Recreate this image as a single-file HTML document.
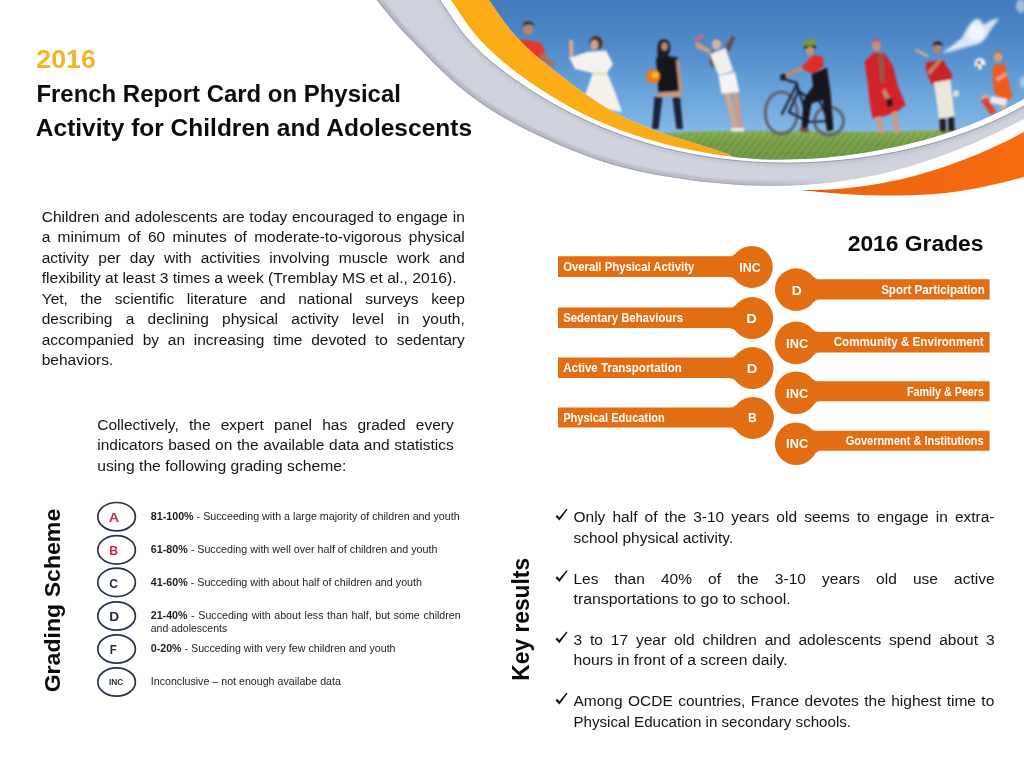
<!DOCTYPE html>
<html><head><meta charset="utf-8"><title>2016 French Report Card on Physical Activity for Children and Adolescents</title>
<style>
html,body{margin:0;padding:0;background:#fff;}
body{width:1024px;height:768px;overflow:hidden;font-family:"Liberation Sans", sans-serif;}
svg{display:block;font-family:"Liberation Sans", sans-serif;}
</style></head><body>
<svg width="1024" height="768" viewBox="0 0 1024 768">
<defs>
<linearGradient id="sky" x1="0" y1="0" x2="0" y2="1">
<stop offset="0" stop-color="#3f77b8"/><stop offset="0.25" stop-color="#4d86c5"/><stop offset="0.4" stop-color="#5893d0"/><stop offset="0.8" stop-color="#82b8e5"/><stop offset="1" stop-color="#8cc0e9"/>
</linearGradient>
<linearGradient id="grass" x1="0" y1="0" x2="0" y2="1">
<stop offset="0" stop-color="#8aad56"/><stop offset="0.3" stop-color="#6f9a40"/><stop offset="1" stop-color="#618c36"/>
</linearGradient>
<linearGradient id="greyg" x1="380" y1="0" x2="1024" y2="0" gradientUnits="userSpaceOnUse">
<stop offset="0" stop-color="#cfd2dc"/><stop offset="0.5" stop-color="#d1d4de"/><stop offset="0.8" stop-color="#ced1db"/><stop offset="1" stop-color="#cdd0da"/>
</linearGradient>
<linearGradient id="yelg" x1="450" y1="0" x2="726" y2="155" gradientUnits="userSpaceOnUse">
<stop offset="0" stop-color="#fbab16"/><stop offset="0.6" stop-color="#fbae18"/><stop offset="1" stop-color="#f6a81a"/>
</linearGradient>
<linearGradient id="orgg" x1="801" y1="0" x2="1024" y2="0" gradientUnits="userSpaceOnUse">
<stop offset="0" stop-color="#c9530c"/><stop offset="0.18" stop-color="#ee6510"/><stop offset="1" stop-color="#f76c12"/>
</linearGradient>
<linearGradient id="edgeg" x1="380" y1="0" x2="1024" y2="0" gradientUnits="userSpaceOnUse">
<stop offset="0" stop-color="#9b9eac"/><stop offset="0.6" stop-color="#a4a7b4"/><stop offset="0.72" stop-color="#b4b7c4" stop-opacity="0"/><stop offset="1" stop-color="#b4b7c4" stop-opacity="0"/>
</linearGradient>
<linearGradient id="fadeg" x1="380" y1="0" x2="1024" y2="0" gradientUnits="userSpaceOnUse">
<stop offset="0" stop-color="#fff" stop-opacity="0"/><stop offset="0.66" stop-color="#fff" stop-opacity="0"/><stop offset="0.8" stop-color="#fff" stop-opacity="0.05"/><stop offset="1" stop-color="#fff" stop-opacity="0.05"/>
</linearGradient>
<pattern id="grasspat" width="7" height="9" patternUnits="userSpaceOnUse" patternTransform="skewX(-38)">
<rect x="0.600" y="0" width="1" height="9" fill="#c9d98f" opacity="0.75"/>
<rect x="3.200" y="0" width="1.300" height="9" fill="#456f24" opacity="0.55"/>
<rect x="5.300" y="2" width="0.800" height="6" fill="#aac670" opacity="0.6"/>
</pattern>
<clipPath id="photoclip"><path d="M483.66 -7.42 C484.61 -6.09 484.83 -5.78 489.40 0.58 C493.97 6.94 503.83 22.09 511.05 30.72 C518.26 39.36 525.48 45.76 532.69 52.39 C539.91 59.02 547.12 64.71 554.34 70.51 C561.55 76.32 568.77 81.95 575.98 87.22 C583.20 92.49 590.41 97.54 597.63 102.13 C604.84 106.72 612.06 111.00 619.27 114.78 C626.49 118.57 633.70 121.84 640.92 124.86 C648.13 127.88 655.35 130.41 662.56 132.90 C669.78 135.39 676.99 137.54 684.21 139.80 C691.42 142.05 698.64 144.12 705.85 146.44 C713.07 148.75 722.64 151.93 727.50 153.70 C732.36 155.47 730.04 156.19 735.00 157.07 C739.96 157.95 749.82 158.57 757.23 158.97 C764.64 159.38 772.05 159.49 779.46 159.50 C786.87 159.51 794.28 159.36 801.69 159.05 C809.10 158.74 816.51 158.27 823.92 157.65 C831.33 157.02 838.74 156.24 846.15 155.30 C853.56 154.37 860.97 153.27 868.38 152.04 C875.79 150.80 883.21 149.41 890.62 147.87 C898.03 146.33 905.44 144.66 912.85 142.81 C920.26 140.95 927.67 138.96 935.08 136.74 C942.49 134.53 949.90 132.14 957.31 129.51 C964.72 126.87 972.13 124.04 979.54 120.93 C986.95 117.81 994.36 114.48 1001.77 110.84 C1009.18 107.20 1018.96 101.74 1024.00 99.07 C1029.04 96.40 1030.67 95.54 1032.00 94.84 L1032.00 -8.00 Z"/></clipPath>
<clipPath id="greyclip"><path d="M370.29 -7.65 C371.39 -6.32 372.08 -5.48 376.90 0.35 C381.72 6.18 391.78 18.99 399.21 27.35 C406.65 35.70 414.09 42.92 421.53 50.49 C428.97 58.07 436.40 65.82 443.84 72.79 C451.28 79.76 458.72 86.38 466.16 92.29 C473.59 98.20 481.03 103.37 488.47 108.23 C495.91 113.09 503.34 117.35 510.78 121.46 C518.22 125.57 525.66 129.25 533.10 132.88 C540.53 136.51 547.97 139.97 555.41 143.26 C562.85 146.54 570.29 149.70 577.72 152.60 C585.16 155.50 592.60 158.22 600.04 160.66 C607.48 163.10 614.91 165.26 622.35 167.23 C629.79 169.19 637.23 170.86 644.67 172.42 C652.10 173.97 659.54 175.31 666.98 176.56 C674.42 177.81 681.86 178.93 689.29 179.93 C696.73 180.94 704.17 181.84 711.61 182.61 C719.04 183.37 726.48 184.02 733.92 184.52 C741.36 185.02 748.80 185.40 756.23 185.62 C763.67 185.83 771.11 185.91 778.55 185.83 C785.99 185.74 793.42 185.51 800.86 185.10 C808.30 184.69 815.74 184.12 823.18 183.37 C830.61 182.62 838.05 181.70 845.49 180.58 C852.93 179.47 860.37 178.17 867.80 176.68 C875.24 175.18 882.68 173.50 890.12 171.64 C897.56 169.77 904.99 167.72 912.43 165.49 C919.87 163.27 927.31 160.85 934.74 158.27 C942.18 155.68 949.62 152.92 957.06 149.98 C964.50 147.05 971.93 143.94 979.37 140.67 C986.81 137.40 994.25 133.95 1001.69 130.35 C1009.12 126.74 1018.95 121.60 1024.00 119.05 C1029.05 116.49 1030.67 115.67 1032.00 114.99 L1032.00 -8.00 Z"/></clipPath>
<filter id="b1" x="-20%" y="-20%" width="140%" height="140%"><feGaussianBlur stdDeviation="0.85"/></filter>
<filter id="b2" x="-20%" y="-20%" width="140%" height="140%"><feGaussianBlur stdDeviation="1.6"/></filter>
<filter id="b3" x="-30%" y="-30%" width="160%" height="160%"><feGaussianBlur stdDeviation="3"/></filter>
</defs>
<g id="banner">
<path d="M370.29 -7.65 C371.39 -6.32 372.08 -5.48 376.90 0.35 C381.72 6.18 391.78 18.99 399.21 27.35 C406.65 35.70 414.09 42.92 421.53 50.49 C428.97 58.07 436.40 65.82 443.84 72.79 C451.28 79.76 458.72 86.38 466.16 92.29 C473.59 98.20 481.03 103.37 488.47 108.23 C495.91 113.09 503.34 117.35 510.78 121.46 C518.22 125.57 525.66 129.25 533.10 132.88 C540.53 136.51 547.97 139.97 555.41 143.26 C562.85 146.54 570.29 149.70 577.72 152.60 C585.16 155.50 592.60 158.22 600.04 160.66 C607.48 163.10 614.91 165.26 622.35 167.23 C629.79 169.19 637.23 170.86 644.67 172.42 C652.10 173.97 659.54 175.31 666.98 176.56 C674.42 177.81 681.86 178.93 689.29 179.93 C696.73 180.94 704.17 181.84 711.61 182.61 C719.04 183.37 726.48 184.02 733.92 184.52 C741.36 185.02 748.80 185.40 756.23 185.62 C763.67 185.83 771.11 185.91 778.55 185.83 C785.99 185.74 793.42 185.51 800.86 185.10 C808.30 184.69 815.74 184.12 823.18 183.37 C830.61 182.62 838.05 181.70 845.49 180.58 C852.93 179.47 860.37 178.17 867.80 176.68 C875.24 175.18 882.68 173.50 890.12 171.64 C897.56 169.77 904.99 167.72 912.43 165.49 C919.87 163.27 927.31 160.85 934.74 158.27 C942.18 155.68 949.62 152.92 957.06 149.98 C964.50 147.05 971.93 143.94 979.37 140.67 C986.81 137.40 994.25 133.95 1001.69 130.35 C1009.12 126.74 1018.95 121.60 1024.00 119.05 C1029.05 116.49 1030.67 115.67 1032.00 114.99 L1032.00 -8.00 Z" fill="url(#greyg)"/>
<g clip-path="url(#greyclip)">
<path d="M434.52 -7.92 C435.44 -6.59 435.48 -6.52 440.00 0.08 C444.52 6.68 454.42 22.56 461.63 31.68 C468.84 40.80 476.05 47.98 483.26 54.78 C490.47 61.58 497.68 67.02 504.89 72.49 C512.10 77.97 519.31 82.86 526.52 87.60 C533.73 92.35 540.94 96.77 548.15 100.95 C555.36 105.13 562.57 109.02 569.78 112.69 C576.99 116.36 584.20 119.77 591.41 122.97 C598.62 126.17 605.83 129.13 613.04 131.88 C620.25 134.64 627.46 137.18 634.67 139.52 C641.88 141.86 649.09 144.00 656.30 145.95 C663.51 147.91 670.72 149.67 677.93 151.26 C685.14 152.86 692.35 154.27 699.56 155.53 C706.77 156.79 713.98 157.88 721.19 158.82 C728.40 159.75 735.60 160.53 742.81 161.15 C750.02 161.77 757.23 162.24 764.44 162.55 C771.65 162.87 778.86 163.02 786.07 163.04 C793.28 163.05 800.49 162.91 807.70 162.62 C814.91 162.34 822.12 161.90 829.33 161.33 C836.54 160.75 843.75 160.03 850.96 159.17 C858.17 158.32 865.38 157.31 872.59 156.18 C879.80 155.04 887.01 153.77 894.22 152.35 C901.43 150.92 908.64 149.36 915.85 147.62 C923.06 145.87 930.27 143.97 937.48 141.86 C944.69 139.75 951.90 137.46 959.11 134.95 C966.32 132.43 973.53 129.72 980.74 126.76 C987.95 123.80 995.16 120.62 1002.37 117.17 C1009.58 113.72 1019.06 108.59 1024.00 106.05 C1028.94 103.51 1030.67 102.62 1032.00 101.94" fill="none" stroke="#a4a8b8" stroke-width="7" opacity="0.3" filter="url(#b2)"/>
<path d="M370.29 -7.65 C371.39 -6.32 372.08 -5.48 376.90 0.35 C381.72 6.18 391.78 18.99 399.21 27.35 C406.65 35.70 414.09 42.92 421.53 50.49 C428.97 58.07 436.40 65.82 443.84 72.79 C451.28 79.76 458.72 86.38 466.16 92.29 C473.59 98.20 481.03 103.37 488.47 108.23 C495.91 113.09 503.34 117.35 510.78 121.46 C518.22 125.57 525.66 129.25 533.10 132.88 C540.53 136.51 547.97 139.97 555.41 143.26 C562.85 146.54 570.29 149.70 577.72 152.60 C585.16 155.50 592.60 158.22 600.04 160.66 C607.48 163.10 614.91 165.26 622.35 167.23 C629.79 169.19 637.23 170.86 644.67 172.42 C652.10 173.97 659.54 175.31 666.98 176.56 C674.42 177.81 681.86 178.93 689.29 179.93 C696.73 180.94 704.17 181.84 711.61 182.61 C719.04 183.37 726.48 184.02 733.92 184.52 C741.36 185.02 748.80 185.40 756.23 185.62 C763.67 185.83 771.11 185.91 778.55 185.83 C785.99 185.74 793.42 185.51 800.86 185.10 C808.30 184.69 815.74 184.12 823.18 183.37 C830.61 182.62 838.05 181.70 845.49 180.58 C852.93 179.47 860.37 178.17 867.80 176.68 C875.24 175.18 882.68 173.50 890.12 171.64 C897.56 169.77 904.99 167.72 912.43 165.49 C919.87 163.27 927.31 160.85 934.74 158.27 C942.18 155.68 949.62 152.92 957.06 149.98 C964.50 147.05 971.93 143.94 979.37 140.67 C986.81 137.40 994.25 133.95 1001.69 130.35 C1009.12 126.74 1018.95 121.60 1024.00 119.05 C1029.05 116.49 1030.67 115.67 1032.00 114.99" fill="none" stroke="url(#edgeg)" stroke-width="9" opacity="0.5" filter="url(#b1)"/>
<path d="M370.29 -7.65 C371.39 -6.32 372.08 -5.48 376.90 0.35 C381.72 6.18 391.78 18.99 399.21 27.35 C406.65 35.70 414.09 42.92 421.53 50.49 C428.97 58.07 436.40 65.82 443.84 72.79 C451.28 79.76 458.72 86.38 466.16 92.29 C473.59 98.20 481.03 103.37 488.47 108.23 C495.91 113.09 503.34 117.35 510.78 121.46 C518.22 125.57 525.66 129.25 533.10 132.88 C540.53 136.51 547.97 139.97 555.41 143.26 C562.85 146.54 570.29 149.70 577.72 152.60 C585.16 155.50 592.60 158.22 600.04 160.66 C607.48 163.10 614.91 165.26 622.35 167.23 C629.79 169.19 637.23 170.86 644.67 172.42 C652.10 173.97 659.54 175.31 666.98 176.56 C674.42 177.81 681.86 178.93 689.29 179.93 C696.73 180.94 704.17 181.84 711.61 182.61 C719.04 183.37 726.48 184.02 733.92 184.52 C741.36 185.02 748.80 185.40 756.23 185.62 C763.67 185.83 771.11 185.91 778.55 185.83 C785.99 185.74 793.42 185.51 800.86 185.10 C808.30 184.69 815.74 184.12 823.18 183.37 C830.61 182.62 838.05 181.70 845.49 180.58 C852.93 179.47 860.37 178.17 867.80 176.68 C875.24 175.18 882.68 173.50 890.12 171.64 C897.56 169.77 904.99 167.72 912.43 165.49 C919.87 163.27 927.31 160.85 934.74 158.27 C942.18 155.68 949.62 152.92 957.06 149.98 C964.50 147.05 971.93 143.94 979.37 140.67 C986.81 137.40 994.25 133.95 1001.69 130.35 C1009.12 126.74 1018.95 121.60 1024.00 119.05 C1029.05 116.49 1030.67 115.67 1032.00 114.99" fill="none" stroke="url(#edgeg)" stroke-width="2.4" opacity="0.8"/>
<path d="M370.29 -7.65 C371.39 -6.32 372.08 -5.48 376.90 0.35 C381.72 6.18 391.78 18.99 399.21 27.35 C406.65 35.70 414.09 42.92 421.53 50.49 C428.97 58.07 436.40 65.82 443.84 72.79 C451.28 79.76 458.72 86.38 466.16 92.29 C473.59 98.20 481.03 103.37 488.47 108.23 C495.91 113.09 503.34 117.35 510.78 121.46 C518.22 125.57 525.66 129.25 533.10 132.88 C540.53 136.51 547.97 139.97 555.41 143.26 C562.85 146.54 570.29 149.70 577.72 152.60 C585.16 155.50 592.60 158.22 600.04 160.66 C607.48 163.10 614.91 165.26 622.35 167.23 C629.79 169.19 637.23 170.86 644.67 172.42 C652.10 173.97 659.54 175.31 666.98 176.56 C674.42 177.81 681.86 178.93 689.29 179.93 C696.73 180.94 704.17 181.84 711.61 182.61 C719.04 183.37 726.48 184.02 733.92 184.52 C741.36 185.02 748.80 185.40 756.23 185.62 C763.67 185.83 771.11 185.91 778.55 185.83 C785.99 185.74 793.42 185.51 800.86 185.10 C808.30 184.69 815.74 184.12 823.18 183.37 C830.61 182.62 838.05 181.70 845.49 180.58 C852.93 179.47 860.37 178.17 867.80 176.68 C875.24 175.18 882.68 173.50 890.12 171.64 C897.56 169.77 904.99 167.72 912.43 165.49 C919.87 163.27 927.31 160.85 934.74 158.27 C942.18 155.68 949.62 152.92 957.06 149.98 C964.50 147.05 971.93 143.94 979.37 140.67 C986.81 137.40 994.25 133.95 1001.69 130.35 C1009.12 126.74 1018.95 121.60 1024.00 119.05 C1029.05 116.49 1030.67 115.67 1032.00 114.99" fill="none" stroke="url(#fadeg)" stroke-width="18" filter="url(#b2)"/>
</g>
<path d="M434.52 -7.92 C435.44 -6.59 435.48 -6.52 440.00 0.08 C444.52 6.68 454.42 22.56 461.63 31.68 C468.84 40.80 476.05 47.98 483.26 54.78 C490.47 61.58 497.68 67.02 504.89 72.49 C512.10 77.97 519.31 82.86 526.52 87.60 C533.73 92.35 540.94 96.77 548.15 100.95 C555.36 105.13 562.57 109.02 569.78 112.69 C576.99 116.36 584.20 119.77 591.41 122.97 C598.62 126.17 605.83 129.13 613.04 131.88 C620.25 134.64 627.46 137.18 634.67 139.52 C641.88 141.86 649.09 144.00 656.30 145.95 C663.51 147.91 670.72 149.67 677.93 151.26 C685.14 152.86 692.35 154.27 699.56 155.53 C706.77 156.79 713.98 157.88 721.19 158.82 C728.40 159.75 735.60 160.53 742.81 161.15 C750.02 161.77 757.23 162.24 764.44 162.55 C771.65 162.87 778.86 163.02 786.07 163.04 C793.28 163.05 800.49 162.91 807.70 162.62 C814.91 162.34 822.12 161.90 829.33 161.33 C836.54 160.75 843.75 160.03 850.96 159.17 C858.17 158.32 865.38 157.31 872.59 156.18 C879.80 155.04 887.01 153.77 894.22 152.35 C901.43 150.92 908.64 149.36 915.85 147.62 C923.06 145.87 930.27 143.97 937.48 141.86 C944.69 139.75 951.90 137.46 959.11 134.95 C966.32 132.43 973.53 129.72 980.74 126.76 C987.95 123.80 995.16 120.62 1002.37 117.17 C1009.58 113.72 1019.06 108.59 1024.00 106.05 C1028.94 103.51 1030.67 102.62 1032.00 101.94 L1032.00 -8.00 Z" fill="#fff"/>
<path d="M434.52 -7.92 C435.44 -6.59 435.48 -6.52 440.00 0.08 C444.52 6.68 454.42 22.56 461.63 31.68 C468.84 40.80 476.05 47.98 483.26 54.78 C490.47 61.58 497.68 67.02 504.89 72.49 C512.10 77.97 519.31 82.86 526.52 87.60 C533.73 92.35 540.94 96.77 548.15 100.95 C555.36 105.13 562.57 109.02 569.78 112.69 C576.99 116.36 584.20 119.77 591.41 122.97 C598.62 126.17 605.83 129.13 613.04 131.88 C620.25 134.64 627.46 137.18 634.67 139.52 C641.88 141.86 649.09 144.00 656.30 145.95 C663.51 147.91 670.72 149.67 677.93 151.26 C685.14 152.86 692.35 154.27 699.56 155.53 C706.77 156.79 713.98 157.88 721.19 158.82 C728.40 159.75 735.60 160.53 742.81 161.15 C750.02 161.77 757.23 162.24 764.44 162.55 C771.65 162.87 778.86 163.02 786.07 163.04 C793.28 163.05 800.49 162.91 807.70 162.62 C814.91 162.34 822.12 161.90 829.33 161.33 C836.54 160.75 843.75 160.03 850.96 159.17 C858.17 158.32 865.38 157.31 872.59 156.18 C879.80 155.04 887.01 153.77 894.22 152.35 C901.43 150.92 908.64 149.36 915.85 147.62 C923.06 145.87 930.27 143.97 937.48 141.86 C944.69 139.75 951.90 137.46 959.11 134.95 C966.32 132.43 973.53 129.72 980.74 126.76 C987.95 123.80 995.16 120.62 1002.37 117.17 C1009.58 113.72 1019.06 108.59 1024.00 106.05 C1028.94 103.51 1030.67 102.62 1032.00 101.94" fill="none" stroke="#6d6f7c" stroke-width="0.9" opacity="0.7"/>
<path d="M445.65 -7.53 C446.58 -6.19 446.68 -6.06 451.25 0.47 C455.82 7.00 465.80 22.65 473.08 31.66 C480.35 40.68 487.63 47.76 494.90 54.56 C502.18 61.35 509.46 66.88 516.73 72.44 C524.01 78.00 531.28 83.09 538.56 87.94 C545.83 92.79 553.11 97.31 560.38 101.56 C567.66 105.80 574.94 109.73 582.21 113.39 C589.49 117.05 596.76 120.41 604.04 123.53 C611.31 126.65 618.59 129.48 625.87 132.11 C633.14 134.73 640.42 137.09 647.69 139.28 C654.97 141.46 662.24 143.41 669.52 145.20 C676.79 146.99 684.07 148.58 691.35 150.03 C698.62 151.49 705.90 152.77 713.17 153.94 C720.45 155.11 731.36 156.55 735.00 157.07 L735.00 157.07 L727.50 153.70 C723.89 152.49 713.07 148.75 705.85 146.44 C698.64 144.12 691.42 142.05 684.21 139.80 C676.99 137.54 669.78 135.39 662.56 132.90 C655.35 130.41 648.13 127.88 640.92 124.86 C633.70 121.84 626.49 118.57 619.27 114.78 C612.06 111.00 604.84 106.72 597.63 102.13 C590.41 97.54 583.20 92.49 575.98 87.22 C568.77 81.95 561.55 76.32 554.34 70.51 C547.12 64.71 539.91 59.02 532.69 52.39 C525.48 45.76 518.26 39.36 511.05 30.72 C503.83 22.09 493.97 6.94 489.40 0.58 C484.83 -5.78 484.61 -6.09 483.66 -7.42 Z" fill="url(#yelg)"/>
<g clip-path="url(#photoclip)">
<rect x="470" y="-8" width="560" height="173" fill="url(#sky)"/>
<g id="cloud" filter="url(#b2)" fill="#fff">
<path d="M942 53 C950 47 956 43 962 38 C966 30 970 22 976 19 C980 18 982 22 984 25 C990 20 996 18 999 19 C994 25 990 30 987 36 C984 42 978 45 970 46 C962 48 952 52 942 53Z" opacity="0.8"/>
<ellipse cx="976" cy="32" rx="8" ry="9" opacity="0.6"/>
<ellipse cx="1021" cy="6" rx="5" ry="7" opacity="0.5"/>
<ellipse cx="1023" cy="82" rx="3" ry="6" opacity="0.45"/>
</g>
<g id="grass">
<path d="M655 134 C700 130.5 760 130.8 820 131.5 C870 132 920 131.5 960 129 L960 170 L655 170Z" fill="url(#grass)" filter="url(#b1)"/>
<path d="M655 135.500 C700 132 760 132.300 820 133 C870 133.500 920 133 960 130.500 L960 170 L655 170Z" fill="url(#grasspat)" opacity="0.75" filter="url(#b1)"/>
</g>
<g id="people" filter="url(#b1)">
<!-- 1 boy red shirt -->
<ellipse cx="528" cy="29" rx="5" ry="6" fill="#b8846c"/>
<path d="M522.5 27 C522 20 534 19.500 534.500 26 C531 23.500 526 24 522.500 27Z" fill="#2c2a3a"/>
<path d="M520 39.500 L528 40.500 L541 42.500 L545 52 L542 62 L520 46Z" fill="#e8342a"/>
<path d="M541.5 52 L555 64 L552 67 L539 57Z" fill="#b86a50"/>
<!-- 2 girl white dress -->
<ellipse cx="596" cy="43" rx="6.5" ry="7" fill="#4a3228"/>
<ellipse cx="594.5" cy="45" rx="4" ry="5" fill="#d2a48c"/>
<path d="M569 40 L573 40 L573.500 58 L569.500 59Z" fill="#d8a890"/>
<path d="M569.500 58 L587 52 L606 50.500 L613 64 L607 73 L592.500 73 L575 69Z" fill="#f4f2ee"/>
<path d="M592.5 72.500 L607.500 72.500 L608 76 L592 76Z" fill="#ece2a4"/>
<path d="M592 75 L608 75 L615 92 L622 112 L604 109 L585 95Z" fill="#f3f1ea"/>
<!-- 3 girl black with ball -->
<path d="M658 44 C659 38 669 38 670 45 C671 52 668 58 664 60 L657 60 C658 55 657 49 658 44Z" fill="#1e1c24"/>
<ellipse cx="664.500" cy="46.500" rx="3.200" ry="4" fill="#b98a74"/>
<path d="M656 58.5 L668 56 L677.500 57.500 L680.500 91.500 L658.500 93.500Z" fill="#17171d"/>
<path d="M676 60 L679.500 61 L682.500 90 L679 92Z" fill="#c09078"/>
<path d="M658.500 92.500 L681 91 L681.500 97 L657.500 97Z" fill="#c49a80"/>
<path d="M654.500 97 L662.500 97 L658.500 129 L652 129Z" fill="#1f2238"/>
<path d="M672.500 97 L680 97 L683 129 L676.500 129Z" fill="#1f2238"/>
<circle cx="653" cy="76.500" r="7" fill="#ee7a1e"/>
<ellipse cx="655" cy="75" rx="3.500" ry="3" fill="#f8c028"/>
<!-- 4 girl white arms raised -->
<path d="M711 50 C709 56 709 62 712 68 L716 66 L716 52Z" fill="#6a5448"/>
<ellipse cx="716.500" cy="44.500" rx="4.500" ry="5" fill="#d9b49e"/>
<path d="M710 54 L696 48 L695 43 L698 42 L711 50Z" fill="#c99c86"/>
<path d="M724 49 L732 36 L735.500 37 L729 52Z" fill="#6c4a3c"/>
<path d="M694 38 L702 34 L704 37 L697 42Z" fill="#c86a8c"/>
<path d="M710 54 L725.500 48 L733.500 71 L718.500 75.500Z" fill="#f1efec"/>
<path d="M718.500 76 L735 72 L739.500 92 L721.500 94Z" fill="#f6f4f2"/>
<path d="M724 93 L730 93 L738 129 L733 129Z" fill="#d2a890"/>
<path d="M732 93 L738.500 92.500 L743 129 L738.500 129Z" fill="#c99c86"/>
<path d="M731 128 L744 128 L744 131.500 L731 131.500Z" fill="#eeeae6"/>
<!-- 5 biker -->
<g fill="none" stroke="#5e6474" stroke-width="3">
<ellipse cx="781.3" cy="113" rx="16" ry="21"/>
<ellipse cx="829" cy="121" rx="14.500" ry="14"/>
</g>
<g fill="none" stroke="#1a2236" stroke-width="2.200" stroke-linecap="round">
<path d="M781.500 78.500 L796.500 83 L808.500 122 M796.500 85 L782 114 M797 90 L806 96 M798 92 L789 112 L808.500 122 L829 121 L818 98"/>
</g>
<path d="M803.500 44 C804 38 816 37.500 816.500 44 L815 46.500 L805 47Z" fill="#7a9a2c"/>
<path d="M804 46 L816 45.500 L816 48.500 L804 49Z" fill="#1e2420"/>
<ellipse cx="810" cy="51" rx="4.200" ry="4.500" fill="#c49278"/>
<path d="M800.500 68 L813 55 L822.500 56.500 L824 66 L813 74Z" fill="#de2e2c"/>
<path d="M801 66.500 L803 70.500 L783 79 L781.500 75.500Z" fill="#c08a74"/>
<path d="M780 75 L785.500 73.500 L786.500 79 L781 80.500Z" fill="#1c1c22"/>
<path d="M811.500 74 L827 67.500 L830.500 92.500 L833.500 130 L827 131.500 L822.500 100 L811.500 103.500 L807 130 L801.500 127.500 L803.500 100 L813 86Z" fill="#15151b"/>
<path d="M801 127 L809 129 L808 133 L799 131Z" fill="#7c4a3c"/>
<!-- 6 red robe -->
<ellipse cx="876.500" cy="46" rx="4.300" ry="5.200" fill="#c8907c"/>
<path d="M872 43 C872.500 37 881 37 881 43 C878 41.500 875 41.500 872 43Z" fill="#d6507e"/>
<path d="M864.500 61.500 L874 52.500 L885 53.500 L893 66 L897.500 84.500 L905.500 105 L897.500 111.500 L885 116 L872.500 118.500 L869.500 100 L867.500 81.500Z" fill="#d4222a"/>
<path d="M878.500 55 L883.500 55 L884.500 82 L880.500 84Z" fill="#8a5a44"/>
<path d="M885 88 L891 100 L888 104 L882 92Z" fill="#c08a72"/>
<path d="M886 99 L892 98 L893 106 L887 107Z" fill="#3a1418"/>
<path d="M875.500 117 L881 116.500 L884 133 L879 133Z" fill="#c99a82"/>
<path d="M892 112.500 L897.500 111 L899.500 133 L894.500 133Z" fill="#c99a82"/>
<!-- 7 baseball -->
<path d="M914.500 50.500 L916 48.500 L929 55.500 L927.500 57.500Z" fill="#c8b48c"/>
<ellipse cx="937.500" cy="49" rx="4" ry="4.800" fill="#b8846c"/>
<path d="M932.500 46 C933 40 942.500 40 942.500 46 C939.500 44.500 936 44.500 932.500 46Z" fill="#2a1c22"/>
<path d="M926 62 L943 60 L952.500 75 L950.500 80.500 L931.500 84.500 L926 71.500Z" fill="#c8242c"/>
<path d="M927 72 L940 58 L942.500 60 L930 75Z" fill="#b88068"/>
<path d="M934 82.500 L950.500 79.500 L954.500 116 L939 119Z" fill="#ece6da"/>
<path d="M954 90 L959 91 L958 97 L953 96Z" fill="#e8e4e0"/>
<path d="M939.500 118.500 L945.500 118 L946 131.500 L940 131.500Z" fill="#2a1c24"/>
<path d="M948 117.500 L954 116.500 L954.500 131 L948.500 131Z" fill="#2a1c24"/>
<!-- 8 soccer kid -->
<ellipse cx="998" cy="57" rx="4.300" ry="5" fill="#d0a080"/>
<path d="M993.500 55 C994 49 1003 49 1003 55 C1000 52.500 996.500 52.500 993.500 55Z" fill="#a87c50"/>
<path d="M993.500 65.500 L1004.500 63.500 L1012.500 97.500 L1006.500 102 L994.500 93.500 L992.500 75Z" fill="#f25a1a"/>
<path d="M996 78 L1006 72 L1007.500 75 L997 82Z" fill="#d8a488"/>
<path d="M991 96 L1007 99 L1006 106 L990 103Z" fill="#eeeae8"/>
<circle cx="985.500" cy="98" r="3.800" fill="#d8a890"/>
<path d="M981 100 L987 97 L996.500 112 L990.500 115Z" fill="#e2402e"/>
<path d="M1000 105 L1005 105 L1006 113 L1001.500 113Z" fill="#d8a890"/>
<circle cx="980" cy="63.700" r="5.600" fill="#f2f2f2"/>
<circle cx="979" cy="62.500" r="1.800" fill="#222"/><circle cx="983" cy="66.500" r="1.400" fill="#222"/><circle cx="977" cy="67" r="1.200" fill="#222"/>
</g>

</g>
<path d="M800.60 190.09 C804.32 190.04 815.49 190.12 822.94 189.83 C830.39 189.54 837.83 189.04 845.28 188.33 C852.73 187.62 860.17 186.70 867.62 185.58 C875.07 184.46 882.51 183.13 889.96 181.60 C897.41 180.07 904.85 178.33 912.30 176.39 C919.75 174.45 927.19 172.30 934.64 169.96 C942.09 167.61 949.53 165.05 956.98 162.30 C964.43 159.54 971.87 156.59 979.32 153.43 C986.77 150.27 994.21 146.91 1001.66 143.35 C1009.11 139.79 1018.94 134.62 1024.00 132.06 C1029.06 129.51 1030.67 128.69 1032.00 128.02 L1032.00 174.96 C1030.67 175.30 1029.06 175.72 1024.00 177.03 C1018.94 178.34 1009.11 181.03 1001.66 182.81 C994.21 184.60 986.77 186.28 979.32 187.73 C971.87 189.17 964.43 190.45 956.98 191.48 C949.53 192.52 942.09 193.30 934.64 193.92 C927.19 194.55 919.75 194.94 912.30 195.21 C904.85 195.49 897.41 195.58 889.96 195.57 C882.51 195.56 875.07 195.39 867.62 195.13 C860.17 194.87 852.73 194.48 845.28 194.00 C837.83 193.53 830.39 192.94 822.94 192.29 C815.49 191.64 804.32 190.47 800.60 190.10 Z" fill="url(#orgg)"/>
</g>
<g id="chart" fill="#e36d12">
<rect x="558" y="256.25" width="193.75" height="20.75"/>
<circle cx="751.75" cy="266.90" r="21"/>
<rect x="558" y="307.50" width="194.20" height="20.50"/>
<circle cx="752.20" cy="318.10" r="21"/>
<rect x="558" y="357.50" width="194.50" height="20.50"/>
<circle cx="752.50" cy="368.10" r="21"/>
<rect x="558" y="407.50" width="194.90" height="20.00"/>
<circle cx="752.90" cy="417.90" r="21"/>
<rect x="796" y="279.25" width="193.60" height="20.25"/>
<circle cx="796.2" cy="289.60" r="21.3"/>
<rect x="796" y="332.00" width="193.60" height="20.50"/>
<circle cx="796.2" cy="342.90" r="21.3"/>
<rect x="796" y="381.25" width="193.60" height="20.00"/>
<circle cx="796.2" cy="392.70" r="21.3"/>
<rect x="796" y="430.75" width="193.60" height="20.00"/>
<circle cx="796.2" cy="443.75" r="21.3"/>
<path d="M728.65 256.25 Q732.85 256.25 735.25 253.91 L735.25 256.25 Z"/>
<path d="M728.34 277.00 Q732.54 277.00 734.94 279.48 L734.94 277.00 Z"/>
<path d="M729.07 307.50 Q733.27 307.50 735.67 305.15 L735.67 307.50 Z"/>
<path d="M728.68 328.00 Q732.88 328.00 735.28 330.54 L735.28 328.00 Z"/>
<path d="M729.37 357.50 Q733.57 357.50 735.97 355.15 L735.97 357.50 Z"/>
<path d="M728.98 378.00 Q733.18 378.00 735.58 380.54 L735.58 378.00 Z"/>
<path d="M729.66 407.50 Q733.86 407.50 736.26 405.09 L736.26 407.50 Z"/>
<path d="M729.22 427.50 Q733.42 427.50 735.82 430.12 L735.82 427.50 Z"/>
<path d="M819.82 279.25 Q815.62 279.25 813.22 276.79 L813.22 279.25 Z"/>
<path d="M820.06 299.50 Q815.86 299.50 813.46 302.08 L813.46 299.50 Z"/>
<path d="M819.50 332.00 Q815.30 332.00 812.90 329.68 L812.90 332.00 Z"/>
<path d="M820.21 352.50 Q816.01 352.50 813.61 355.17 L813.61 352.50 Z"/>
<path d="M819.16 381.25 Q814.96 381.25 812.56 379.06 L812.56 381.25 Z"/>
<path d="M820.71 401.25 Q816.51 401.25 814.11 404.23 L814.11 401.25 Z"/>
<path d="M818.07 430.75 Q813.87 430.75 811.47 428.90 L811.47 430.75 Z"/>
<path d="M821.32 450.75 Q817.12 450.75 814.72 454.28 L814.72 450.75 Z"/>
</g>
<g id="scheme" fill="none" stroke="#27324f" stroke-width="1.7">
<ellipse cx="116.6" cy="516.7" rx="18.8" ry="14.2"/>
<ellipse cx="116.6" cy="549.9" rx="18.8" ry="14.2"/>
<ellipse cx="116.6" cy="582.4" rx="18.8" ry="14.2"/>
<ellipse cx="116.6" cy="616.0" rx="18.8" ry="14.2"/>
<ellipse cx="116.6" cy="649.0" rx="18.8" ry="14.2"/>
<ellipse cx="116.6" cy="682.0" rx="18.8" ry="14.2"/>
</g>
<g id="checks" fill="#111">
<path d="M555.5 516.60 L557.2 514.90 L559.3 517.40 L566.5 508.80 L567.6 509.60 L559.4 520.60 Z"/>
<path d="M555.5 578.05 L557.2 576.35 L559.3 578.85 L566.5 570.25 L567.6 571.05 L559.4 582.05 Z"/>
<path d="M555.5 639.30 L557.2 637.60 L559.3 640.10 L566.5 631.50 L567.6 632.30 L559.4 643.30 Z"/>
<path d="M555.5 700.55 L557.2 698.85 L559.3 701.35 L566.5 692.75 L567.6 693.55 L559.4 704.55 Z"/>
</g>
<g id="texts" opacity="0.999">
<text transform="translate(36.35 68.00) scale(1.0679 1)" font-size="25" font-weight="700" fill="#efb62c" xml:space="preserve">2016</text>
<text transform="translate(36.40 101.60) scale(0.9975 1)" font-size="24" font-weight="700" fill="#0c0c0c" xml:space="preserve">French Report Card on Physical</text>
<text transform="translate(35.80 136.20) scale(1.0216 1)" font-size="24" font-weight="700" fill="#0c0c0c" xml:space="preserve">Activity for Children and Adolescents</text>
<text transform="translate(41.73 222.00) scale(1.0000 1)" font-size="15.5" font-weight="400" fill="#141414" style="word-spacing:0.422px" xml:space="preserve">Children and adolescents are today encouraged to engage in</text>
<text transform="translate(41.73 242.40) scale(1.0000 1)" font-size="15.5" font-weight="400" fill="#141414" style="word-spacing:2.962px" xml:space="preserve">a minimum of 60 minutes of moderate-to-vigorous physical</text>
<text transform="translate(41.73 262.90) scale(1.0000 1)" font-size="15.5" font-weight="400" fill="#141414" style="word-spacing:4.854px" xml:space="preserve">activity per day with activities involving muscle work and</text>
<text transform="translate(41.73 283.30) scale(1.0073 1)" font-size="15.5" font-weight="400" fill="#141414" xml:space="preserve">flexibility at least 3 times a week (Tremblay MS et al., 2016).</text>
<text transform="translate(41.73 303.70) scale(1.0000 1)" font-size="15.5" font-weight="400" fill="#141414" style="word-spacing:8.329px" xml:space="preserve">Yet, the scientific literature and national surveys keep</text>
<text transform="translate(41.73 324.10) scale(1.0000 1)" font-size="15.5" font-weight="400" fill="#141414" style="word-spacing:8.987px" xml:space="preserve">describing a declining physical activity level in youth,</text>
<text transform="translate(41.73 344.60) scale(1.0000 1)" font-size="15.5" font-weight="400" fill="#141414" style="word-spacing:4.429px" xml:space="preserve">accompanied by an increasing time devoted to sedentary</text>
<text transform="translate(41.73 365.00) scale(1.0005 1)" font-size="15.5" font-weight="400" fill="#141414" xml:space="preserve">behaviors.</text>
<text transform="translate(97.22 430.00) scale(1.0000 1)" font-size="15.5" font-weight="400" fill="#141414" style="word-spacing:5.909px" xml:space="preserve">Collectively, the expert panel has graded every</text>
<text transform="translate(97.22 450.00) scale(1.0000 1)" font-size="15.5" font-weight="400" fill="#141414" style="word-spacing:0.344px" xml:space="preserve">indicators based on the available data and statistics</text>
<text transform="translate(97.22 470.50) scale(1.0116 1)" font-size="15.5" font-weight="400" fill="#141414" xml:space="preserve">using the following grading scheme:</text>
<text transform="translate(573.48 522.30) scale(1.0000 1)" font-size="15.5" font-weight="400" fill="#141414" style="word-spacing:2.794px" xml:space="preserve">Only half of the 3-10 years old seems to engage in extra-</text>
<text transform="translate(573.48 542.50) scale(0.9990 1)" font-size="15.5" font-weight="400" fill="#141414" xml:space="preserve">school physical activity.</text>
<text transform="translate(573.48 583.75) scale(1.0000 1)" font-size="15.5" font-weight="400" fill="#141414" style="word-spacing:11.837px" xml:space="preserve">Les than 40% of the 3-10 years old use active</text>
<text transform="translate(573.48 603.75) scale(1.0252 1)" font-size="15.5" font-weight="400" fill="#141414" xml:space="preserve">transportations to go to school.</text>
<text transform="translate(573.48 645.00) scale(1.0000 1)" font-size="15.5" font-weight="400" fill="#141414" style="word-spacing:3.585px" xml:space="preserve">3 to 17 year old children and adolescents spend about 3</text>
<text transform="translate(573.48 665.00) scale(1.0166 1)" font-size="15.5" font-weight="400" fill="#141414" xml:space="preserve">hours in front of a screen daily.</text>
<text transform="translate(573.48 706.25) scale(1.0000 1)" font-size="15.5" font-weight="400" fill="#141414" style="word-spacing:1.123px" xml:space="preserve">Among OCDE countries, France devotes the highest time to</text>
<text transform="translate(573.48 727.00) scale(0.9770 1)" font-size="15.5" font-weight="400" fill="#141414" xml:space="preserve">Physical Education in secondary schools.</text>
<text transform="translate(150.75 519.70) scale(1.0711 1)" font-size="10" font-weight="400" fill="#1c1c1c" xml:space="preserve"><tspan font-weight="700">81-100%</tspan> - Succeeding with a large majority of children and youth</text>
<text transform="translate(150.75 553.00) scale(1.0734 1)" font-size="10" font-weight="400" fill="#1c1c1c" xml:space="preserve"><tspan font-weight="700">61-80%</tspan> - Succeding with well over half of children and youth</text>
<text transform="translate(150.75 586.00) scale(1.0743 1)" font-size="10" font-weight="400" fill="#1c1c1c" xml:space="preserve"><tspan font-weight="700">41-60%</tspan> - Succeding with about half of children and youth</text>
<text transform="translate(150.75 618.50) scale(1.0650 1)" font-size="10" font-weight="400" fill="#1c1c1c" style="word-spacing:0.645px" xml:space="preserve"><tspan font-weight="700">21-40%</tspan> - Succeding with about less than half, but some children</text>
<text transform="translate(150.75 632.25) scale(1.0502 1)" font-size="10" font-weight="400" fill="#1c1c1c" xml:space="preserve">and adolescents</text>
<text transform="translate(150.75 651.75) scale(1.0683 1)" font-size="10" font-weight="400" fill="#1c1c1c" xml:space="preserve"><tspan font-weight="700">0-20%</tspan> - Succeding with very few children and youth</text>
<text transform="translate(150.75 684.75) scale(1.0660 1)" font-size="10" font-weight="400" fill="#1c1c1c" xml:space="preserve">Inconclusive – not enough availabe data</text>
<text transform="translate(108.73 521.50) scale(1.0794 1)" font-size="13.4" font-weight="700" fill="#cf2f3a" xml:space="preserve">A</text>
<text transform="translate(109.33 554.60) scale(0.9140 1)" font-size="13.4" font-weight="700" fill="#cf2f3a" xml:space="preserve">B</text>
<text transform="translate(109.33 587.60) scale(0.9037 1)" font-size="13.4" font-weight="700" fill="#1f2a4a" xml:space="preserve">C</text>
<text transform="translate(109.33 620.60) scale(1.0277 1)" font-size="13.4" font-weight="700" fill="#1f2a4a" xml:space="preserve">D</text>
<text transform="translate(109.63 653.90) scale(0.8598 1)" font-size="13.4" font-weight="700" fill="#1f2a4a" xml:space="preserve">F</text>
<text transform="translate(108.98 685.00) scale(0.9932 1)" font-size="8.4" font-weight="700" fill="#1f2a4a" xml:space="preserve">INC</text>
<text transform="translate(60.20 692.35) rotate(-90) scale(1.0050 1)" font-size="23" font-weight="700" fill="#0a0a0a" xml:space="preserve">Grading Scheme</text>
<text transform="translate(529.00 680.65) rotate(-90) scale(0.9902 1)" font-size="23" font-weight="700" fill="#0a0a0a" xml:space="preserve">Key results</text>
<text transform="translate(847.68 250.75) scale(1.0724 1)" font-size="21.3" font-weight="700" fill="#0a0a0a" xml:space="preserve">2016 Grades</text>
<text transform="translate(563.13 271.25) scale(0.9215 1)" font-size="12.3" font-weight="700" fill="#fff" xml:space="preserve">Overall Physical Activity</text>
<text transform="translate(563.13 322.00) scale(0.9239 1)" font-size="12.3" font-weight="700" fill="#fff" xml:space="preserve">Sedentary Behaviours</text>
<text transform="translate(563.13 372.00) scale(0.9392 1)" font-size="12.3" font-weight="700" fill="#fff" xml:space="preserve">Active Transportation</text>
<text transform="translate(563.13 421.75) scale(0.9021 1)" font-size="12.3" font-weight="700" fill="#fff" xml:space="preserve">Physical Education</text>
<text transform="translate(881.13 294.25) scale(0.9430 1)" font-size="12.3" font-weight="700" fill="#fff" xml:space="preserve">Sport Participation</text>
<text transform="translate(833.63 345.75) scale(0.9477 1)" font-size="12.3" font-weight="700" fill="#fff" xml:space="preserve">Community &amp; Environment</text>
<text transform="translate(906.88 395.50) scale(0.8757 1)" font-size="12.3" font-weight="700" fill="#fff" xml:space="preserve">Family &amp; Peers</text>
<text transform="translate(845.63 445.00) scale(0.8952 1)" font-size="12.3" font-weight="700" fill="#fff" xml:space="preserve">Government &amp; Institutions</text>
<text transform="translate(739.35 271.75) scale(0.9513 1)" font-size="13" font-weight="700" fill="#fff" xml:space="preserve">INC</text>
<text transform="translate(746.35 322.50) scale(1.1235 1)" font-size="13" font-weight="700" fill="#fff" xml:space="preserve">D</text>
<text transform="translate(746.85 372.50) scale(1.1235 1)" font-size="13" font-weight="700" fill="#fff" xml:space="preserve">D</text>
<text transform="translate(748.10 421.75) scale(0.9371 1)" font-size="13" font-weight="700" fill="#fff" xml:space="preserve">B</text>
<text transform="translate(791.85 294.50) scale(1.0702 1)" font-size="13" font-weight="700" fill="#fff" xml:space="preserve">D</text>
<text transform="translate(786.10 348.00) scale(0.9848 1)" font-size="13" font-weight="700" fill="#fff" xml:space="preserve">INC</text>
<text transform="translate(786.10 398.00) scale(0.9848 1)" font-size="13" font-weight="700" fill="#fff" xml:space="preserve">INC</text>
<text transform="translate(786.10 448.00) scale(0.9848 1)" font-size="13" font-weight="700" fill="#fff" xml:space="preserve">INC</text>
</g>
</svg>
</body></html>
